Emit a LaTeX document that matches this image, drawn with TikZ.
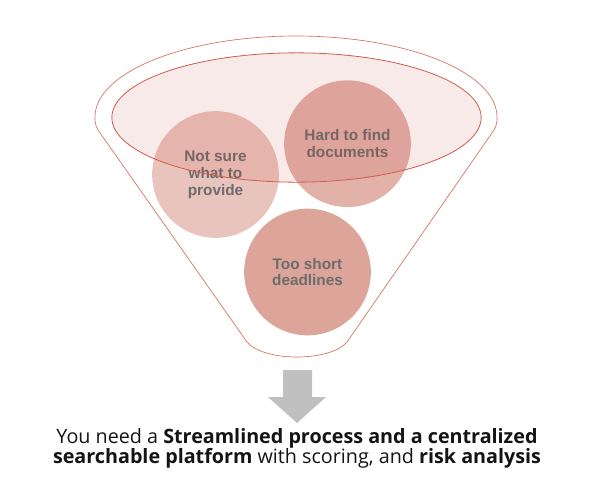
\documentclass[tikz,border=0pt]{standalone}
\usepackage{fontspec}
\setmainfont{Open Sans}
\newfontfamily\circfont{Liberation Sans}
\usetikzlibrary{shapes,positioning}
\definecolor{rimred}{RGB}{208, 92, 74}
\definecolor{funnelred}{RGB}{214, 112, 96}
\definecolor{bubble}{RGB}{205, 120, 105}
\definecolor{rimfill}{RGB}{190, 60, 45}
\definecolor{textgray}{RGB}{108, 108, 108}
\definecolor{arrowgray}{RGB}{192, 192, 192}
\definecolor{darktext}{RGB}{20, 20, 20}

\tikzset{
    problem/.style={circle, fill=bubble, minimum size=95pt, inner sep=0pt,
                    text=textgray, align=center,
                    font=\circfont\bfseries\fontsize{11.5}{12.7}\selectfont}
}

\begin{document}
\begin{tikzpicture}[x=0.75pt, y=-0.75pt]
    \useasboundingbox (0,0) rectangle (594,480);

    % Funnel outline
    \draw[funnelred, line width=0.5pt]
        (98,130) .. controls (95,125) and (95,121) .. (95,117)
        arc[start angle=180, end angle=360, x radius=201, y radius=81]
        .. controls (497,121) and (497,125) .. (494,130)
        -- (347,342) .. controls (330,362) and (264,362) .. (247,342) -- cycle;

    % Problems in the funnel
    \node[problem, fill opacity=0.44, text opacity=1] (notsure) at (215.5,174.5) {Not sure\\what to\\provide};
    \node[problem, fill opacity=0.58, text opacity=1] (hard) at (347.5,143.7) {Hard to find\\documents};
    \node[problem, fill opacity=0.67, text opacity=1] (tooshort) at (307.5,272) {Too short\\deadlines};

    % Funnel rim
    \node[ellipse, draw=rimred, line width=0.6pt, fill=rimfill, fill opacity=0.11,
          minimum width=277pt, minimum height=97pt, inner sep=0pt] (rim) at (296.5,117.5) {};

    % Down arrow
    \coordinate (tip) at (297,423);
    \fill[arrowgray] (283,370) -- (312,370) -- (312,397) -- (326,397) -- (tip)
        -- (268,397) -- (283,397) -- cycle;

    % Conclusion
    \node[text=darktext, align=center, font=\fontsize{14.8}{15}\selectfont,
          anchor=north, inner sep=0pt] (result) at (297,428)
        {You need a \textbf{Streamlined process and a centralized}\\
         \textbf{searchable platform} with scoring, and \textbf{risk analysis}};
\end{tikzpicture}
\end{document}
